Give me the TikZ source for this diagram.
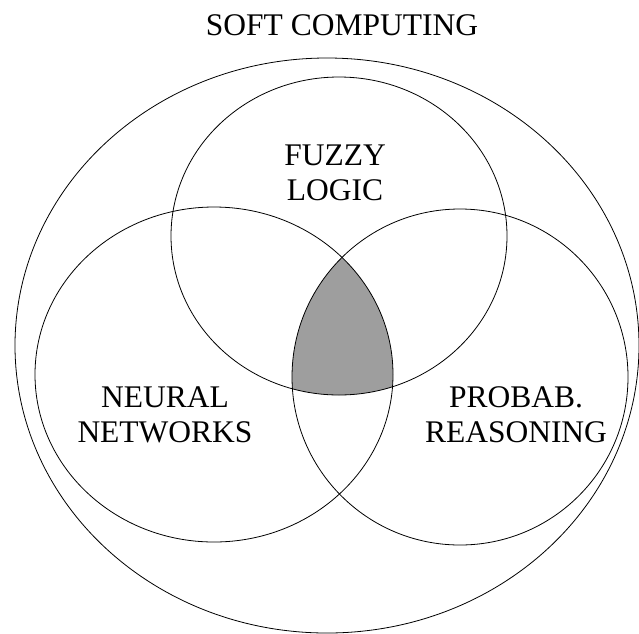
\documentclass[tikz,border=0pt]{standalone}
\usepackage{fontspec}
\setmainfont{Liberation Serif}
\usepackage{xcolor}
\definecolor{lensgray}{gray}{0.62}

\begin{document}
\begin{tikzpicture}[x=1pt, y=-1pt, line width=0.8pt,
    setlabel/.style={font=\fontsize{31.5}{35}\selectfont, align=center, inner sep=0pt}]

  \useasboundingbox (0,0) rectangle (639,633);

  % ── shaded part common to all three sets ─────────────────────────────────
  \begin{scope}
    \clip (214,374.5) ellipse [x radius=179, y radius=167.5];
    \clip (460,377) ellipse [x radius=168, y radius=168];
    \fill[lensgray] (339,236) ellipse [x radius=168, y radius=159];
  \end{scope}

  % ── outer set and the three inner sets ───────────────────────────────────
  \draw (327,345.5) ellipse [x radius=312, y radius=287.5];
  \draw (339,236) ellipse [x radius=168, y radius=159];
  \draw (214,374.5) ellipse [x radius=179, y radius=167.5];
  \draw (460,377) ellipse [x radius=168, y radius=168];

  % ── labels ───────────────────────────────────────────────────────────────
  \node[setlabel] (soft)   at (342,25.5) {SOFT COMPUTING};
  \node[setlabel] (fuzzy)  at (335,172.5) {FUZZY\\LOGIC};
  \node[setlabel] (neural) at (165,415) {NEURAL\\NETWORKS};
  \node[setlabel] (probab) at (516,415) {PROBAB.\\REASONING};

\end{tikzpicture}
\end{document}
